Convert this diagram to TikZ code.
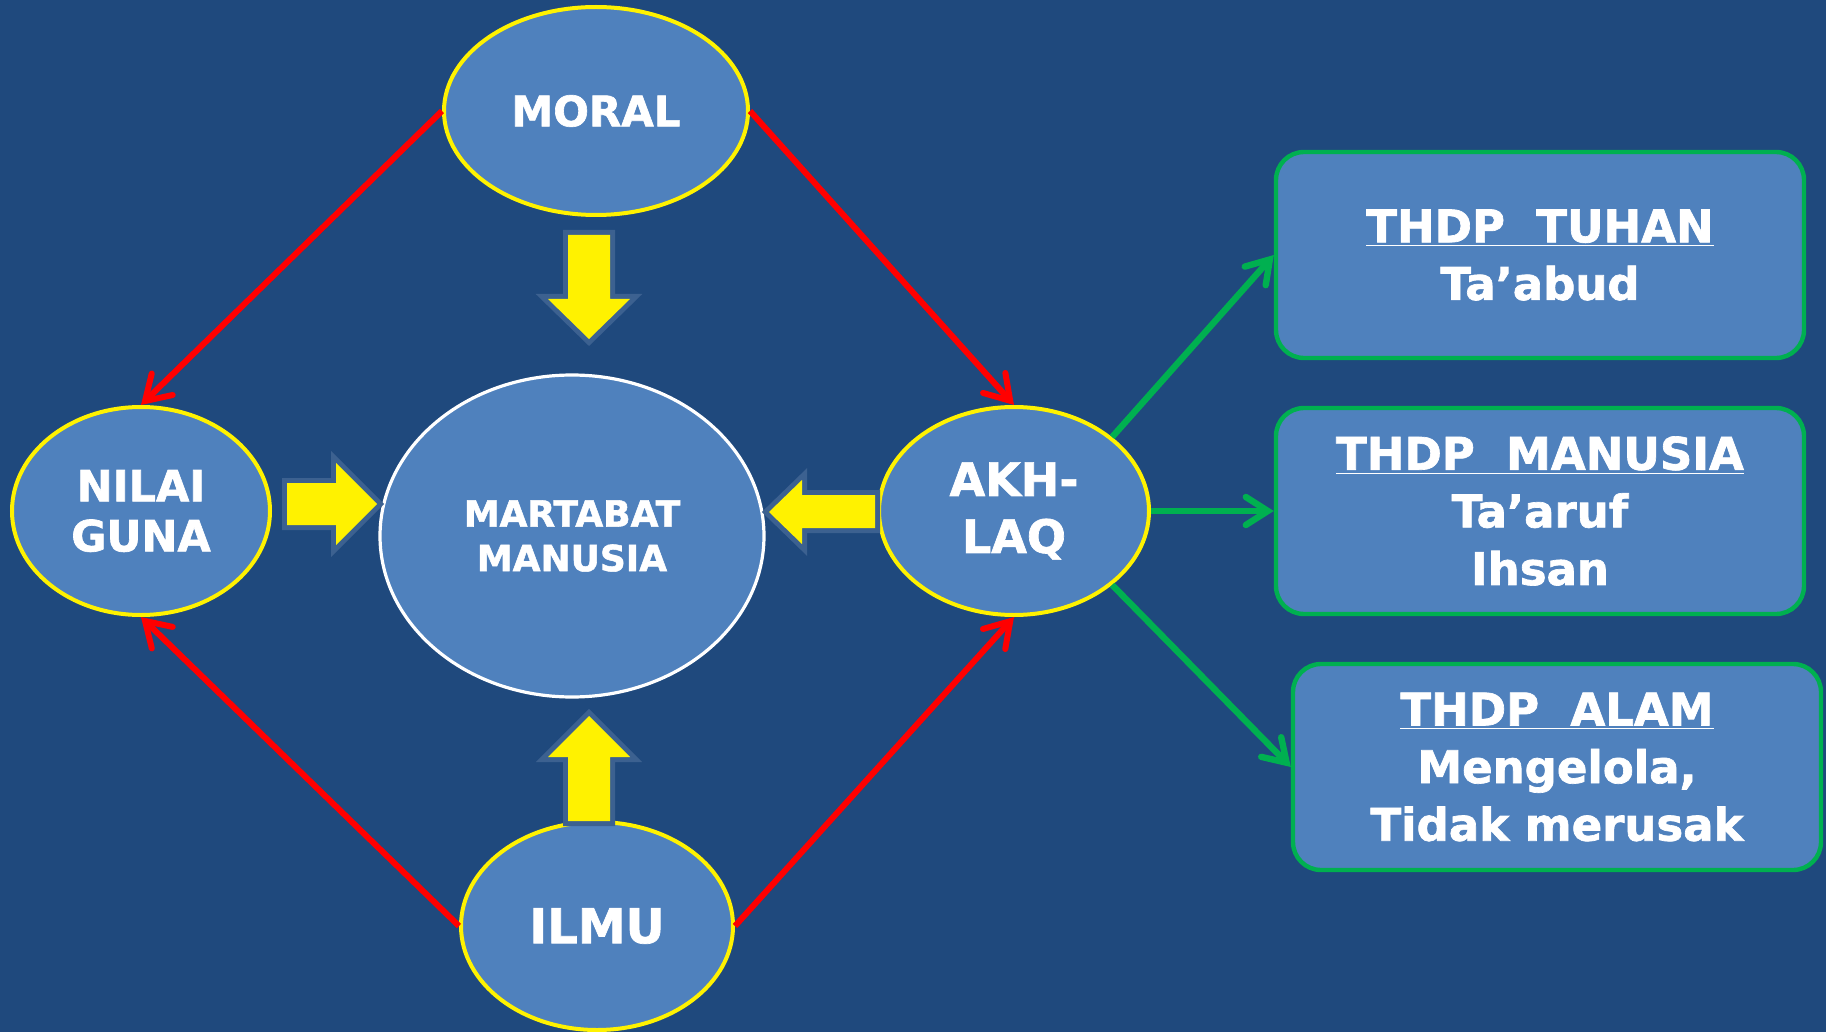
\documentclass[tikz,border=0pt]{standalone}
\usepackage{fontspec}
\setmainfont{DejaVu Sans}[BoldFeatures={FakeBold=1.5}]
\usetikzlibrary{shapes.geometric,arrows.meta}
\definecolor{bgblue}{HTML}{1F497D}
\definecolor{fillblue}{HTML}{4F81BD}
\definecolor{edgeblue}{HTML}{3C6190}
\definecolor{okgreen}{HTML}{00B050}

\begin{document}
\begin{tikzpicture}[
            x=0.5pt, y=-0.5pt,
            every node/.style={text=white,inner sep=0pt,align=center},
            bubble/.style={ellipse,draw=yellow,line width=2pt,fill=fillblue},
            card/.style={draw=okgreen,line width=2.2pt,fill=fillblue,rounded corners=14pt,
                minimum width=264pt,minimum height=103pt,
                font=\bfseries\fontsize{22.5pt}{28.8pt}\selectfont},
            redarrow/.style={red,line width=3pt,-{Straight Barb[length=12pt,width=15pt,line cap=round]}},
            greenarrow/.style={okgreen,line width=3.2pt,-{Straight Barb[length=11pt,width=14pt,line cap=round]}},
            blockarrow/.style={fill=yellow,preaction={draw=edgeblue,line width=5pt}}
            ]
            \fill[bgblue] (0,0) rectangle (1826,1032);

            % the five ellipses
            \node[bubble,minimum width=152pt,minimum height=104pt,
                font=\bfseries\fontsize{21pt}{25pt}\selectfont] (moral) at (596,111) {MORAL};
            \node[bubble,minimum width=129pt,minimum height=104pt,
                font=\bfseries\fontsize{21.5pt}{25pt}\selectfont] (nilai) at (141,511) {NILAI\\GUNA};
            \node[bubble,draw=white,line width=1.6pt,minimum width=192pt,minimum height=161pt,
                font=\bfseries\fontsize{18pt}{22.3pt}\selectfont] (martabat) at (572,536) {MARTABAT\\MANUSIA};
            \node[bubble,minimum width=135pt,minimum height=104pt,
                font=\bfseries\fontsize{23pt}{28.5pt}\selectfont] (akhlaq) at (1014,511) {AKH-\\LAQ};
            \node[bubble,minimum width=136pt,minimum height=104pt,
                font=\bfseries\fontsize{24pt}{28pt}\selectfont] (ilmu) at (597,926) {ILMU};

            % the three boxes
            \node[card] (tuhan) at (1540,255) {\underline{THDP\ \ TUHAN}\\Ta’abud};
            \node[card] (manusia) at (1540,511) {\underline{THDP\ \ MANUSIA}\\Ta’aruf\\Ihsan};
            \node[card] (alam) at (1557,767) {\underline{THDP\ \ ALAM}\\Mengelola,\\Tidak merusak};

            % yellow block arrows
            \path[blockarrow] (568,235) -- (610,235) -- (610,299) -- (630,299) -- (589,339) -- (548,299) -- (568,299) -- cycle;
            \path[blockarrow] (568,821) -- (610,821) -- (610,757) -- (630,757) -- (589,716) -- (548,757) -- (568,757) -- cycle;
            \path[blockarrow] (287,483) -- (336,483) -- (336,463) -- (377,504) -- (336,545) -- (336,525) -- (287,525) -- cycle;
            \path[blockarrow] (875,495) -- (802,495) -- (802,480) -- (769,512) -- (802,544) -- (802,528) -- (875,528) -- cycle;

            \draw[redarrow] (moral.west) -- (nilai.north);
            \draw[redarrow] (moral.east) -- (akhlaq.north);
            \draw[redarrow] (ilmu.west) -- (nilai.south);
            \draw[redarrow] (ilmu.east) -- (akhlaq.south);

            \draw[greenarrow] (akhlaq.37) -- (tuhan.west);
            \draw[greenarrow] (akhlaq.east) -- (manusia.west);
            \draw[greenarrow] (akhlaq.-37) -- (alam.west);
        \end{tikzpicture}
\end{document}
